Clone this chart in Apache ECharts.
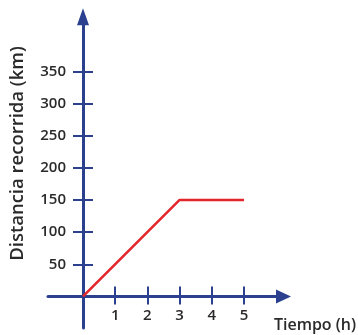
<!DOCTYPE html>
<html>
<head>
<meta charset="utf-8">
<style>
  html, body { margin: 0; padding: 0; background: #ffffff; }
  #chart { width: 358px; height: 335px; }
</style>
<script src="https://cdn.jsdelivr.net/npm/echarts@6/dist/echarts.min.js"></script>
</head>
<body>
<div id="chart"></div>
<script>
// Travel record: distance covered over time
const timeHours = [0, 3, 5];
const distanceKm = [0, 150, 150];

const xTickValues = [1, 2, 3, 4, 5];
const yTickValues = [50, 100, 150, 200, 250, 300, 350];

const xAxisTitle = 'Tiempo (h)';
const yAxisTitle = 'Distancia recorrida (km)';

const AXIS_BLUE = '#2b4190';
const TEXT_DARK = '#2a2a2a';
const FONT = '"Open Sans", "Noto Sans", sans-serif';

const lineData = timeHours.map((t, i) => [t, distanceKm[i]]);

const X_MIN = -1.087, X_MAX = 6.227;
const Y_MIN = -49, Y_MAX = 434.7;

const baseX = {
  type: 'value', min: X_MIN, max: X_MAX,
  splitLine: { show: false }
};
const baseY = {
  type: 'value', min: Y_MIN, max: Y_MAX,
  splitLine: { show: false }
};

const chart = echarts.init(document.getElementById('chart'), null, { renderer: 'canvas' });

chart.setOption({
  animation: false,
  backgroundColor: '#ffffff',
  grid: { left: 48, right: 74.5, top: 16.8, bottom: 7,
    containLabel: false, outerBoundsMode: 'none' },
  xAxis: [
    Object.assign({}, baseX, {
      position: 'bottom',
      axisLine: {
        show: true, onZero: true, onZeroAxisIndex: 0,
        lineStyle: { color: AXIS_BLUE, width: 3 },
        symbol: ['none', 'triangle'], symbolSize: [14, 15]
      },
      axisTick: { show: true, length: 8, customValues: xTickValues,
        lineStyle: { color: AXIS_BLUE, width: 2 } },
      // labels are anchored at the grid edge, so pull them up to the zero line
      axisLabel: { show: true, customValues: xTickValues, margin: -20,
        color: TEXT_DARK, fontFamily: FONT, fontWeight: 600, fontSize: 15 }
    }),
    Object.assign({}, baseX, {
      position: 'top',
      axisLine: { show: true, onZero: true, onZeroAxisIndex: 0,
        lineStyle: { opacity: 0, width: 0 } },
      axisTick: { show: true, length: 10, customValues: xTickValues,
        lineStyle: { color: AXIS_BLUE, width: 2 } },
      axisLabel: { show: false }
    })
  ],
  yAxis: [
    Object.assign({}, baseY, {
      position: 'left',
      axisLine: {
        show: true, onZero: true, onZeroAxisIndex: 0,
        lineStyle: { color: AXIS_BLUE, width: 3 },
        symbol: ['none', 'triangle'], symbolSize: [12, 17]
      },
      axisTick: { show: true, length: 10, customValues: yTickValues,
        lineStyle: { color: AXIS_BLUE, width: 2 } },
      axisLabel: { show: true, customValues: yTickValues, margin: -18,
        color: TEXT_DARK, fontFamily: FONT, fontWeight: 600, fontSize: 15 }
    }),
    Object.assign({}, baseY, {
      position: 'right',
      axisLine: { show: true, onZero: true, onZeroAxisIndex: 0,
        lineStyle: { opacity: 0, width: 0 } },
      axisTick: { show: true, length: 10, customValues: yTickValues,
        lineStyle: { color: AXIS_BLUE, width: 2 } },
      axisLabel: { show: false }
    })
  ],
  graphic: [
    {
      type: 'text', x: 315, y: 325, z: 10,
      style: { text: xAxisTitle, fill: TEXT_DARK, font: '600 16px ' + FONT,
        align: 'center', verticalAlign: 'middle' }
    },
    {
      type: 'text', x: 18, y: 153.5, rotation: Math.PI / 2, z: 10,
      style: { text: yAxisTitle, fill: TEXT_DARK, font: '600 18.5px ' + FONT,
        align: 'center', verticalAlign: 'middle' }
    }
  ],
  series: [
    {
      type: 'line',
      xAxisIndex: 0, yAxisIndex: 0,
      data: lineData,
      symbol: 'none',
      z: 5,
      lineStyle: { color: '#e3262b', width: 2.5 }
    }
  ]
});
</script>
</body>
</html>
